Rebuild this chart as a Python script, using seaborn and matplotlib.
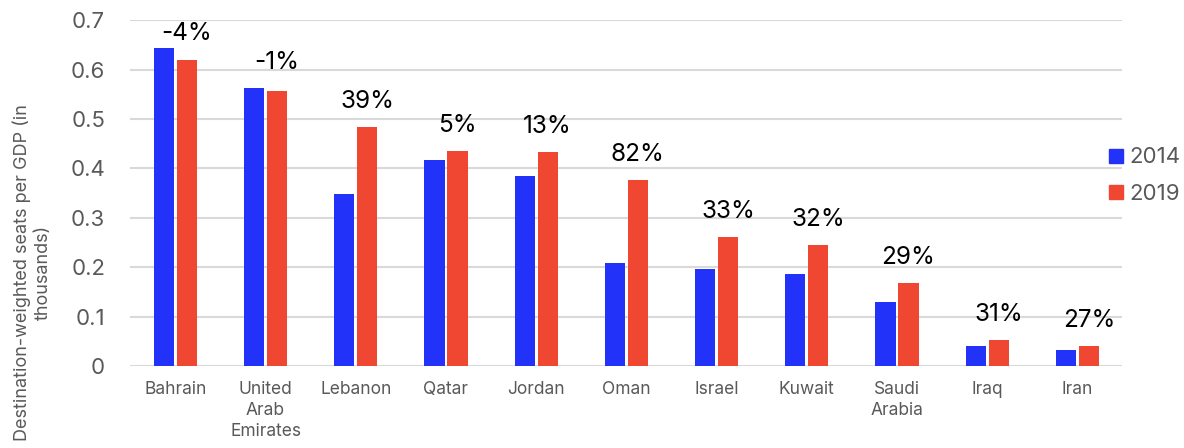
import numpy as np
import pandas as pd
import matplotlib
matplotlib.use("Agg")
import matplotlib.pyplot as plt
from matplotlib.lines import Line2D
import seaborn as sns

countries = ["Bahrain", "United\nArab\nEmirates", "Lebanon", "Qatar", "Jordan", "Oman",
             "Israel", "Kuwait", "Saudi\nArabia", "Iraq", "Iran"]
seats_2014 = [0.644, 0.563, 0.348, 0.417, 0.385, 0.208, 0.196, 0.186, 0.130, 0.040, 0.032]
seats_2019 = [0.619, 0.557, 0.484, 0.435, 0.433, 0.377, 0.261, 0.245, 0.168, 0.053, 0.040]
change_labels = ["-4%", "-1%", "39%", "5%", "13%", "82%", "33%", "32%", "29%", "31%", "27%"]
years = ["2014", "2019"]

blue = "#2232F8"
red = "#F04733"
grey_text = "#595959"

df = pd.DataFrame({
    "country": countries * 2,
    "year": [years[0]] * len(countries) + [years[1]] * len(countries),
    "value": seats_2014 + seats_2019,
})

sns.set_style("white")
plt.rcParams["font.family"] = ["Inter", "DejaVu Sans"]

fig = plt.figure(figsize=(11.84, 4.48), dpi=100)
ax = fig.add_axes([0.110, 0.183, 0.838, 0.772])

sns.barplot(data=df, x="country", y="value", hue="year", palette=[blue, red],
            width=0.51, gap=0.12, linewidth=0, saturation=1, ax=ax, legend=False)

ax.set_ylim(0, 0.7)
ax.set_xlim(-0.5, len(countries) - 0.5)
ax.set_yticks(np.arange(0, 0.71, 0.1))
ax.set_yticklabels(["0"] + [f"{t:.1f}" for t in np.arange(0.1, 0.71, 0.1)])
ax.yaxis.grid(True, color="#d9d9d9", linewidth=1.5)
ax.set_axisbelow(True)
sns.despine(ax=ax, left=True, bottom=True, top=True, right=True)
ax.tick_params(axis="y", length=0, pad=18, labelsize=16, labelcolor=grey_text)
ax.tick_params(axis="x", length=0, pad=11, labelsize=12.5, labelcolor=grey_text)
for lbl in ax.get_xticklabels():
    lbl.set_linespacing(1.3)

ax.set_xlabel("")
ax.set_ylabel("Destination-weighted seats per GDP (in\nthousands)",
              fontsize=13, color=grey_text, linespacing=1.3, ha="center", va="center")
ax.yaxis.set_label_coords(-0.099, 0.27)

# percent change labels above the 2019 bar
slot = 0.51 / 2
for i, lab in enumerate(change_labels):
    top = min(max(seats_2014[i], seats_2019[i]) + 0.0385, 0.66)
    ax.annotate(lab, (i + slot / 2, top), ha="center", va="baseline",
                fontsize=17.5, color="black")

handles = [Line2D([], [], marker="s", linestyle="", markersize=10, color=c) for c in (blue, red)]
ax.legend(handles, years, loc="center left", bbox_to_anchor=(0.962, 0.55), frameon=False,
          fontsize=16, labelcolor=grey_text, handletextpad=0.1, labelspacing=0.75,
          handlelength=1.0)

fig.savefig("out.png", dpi=100)
